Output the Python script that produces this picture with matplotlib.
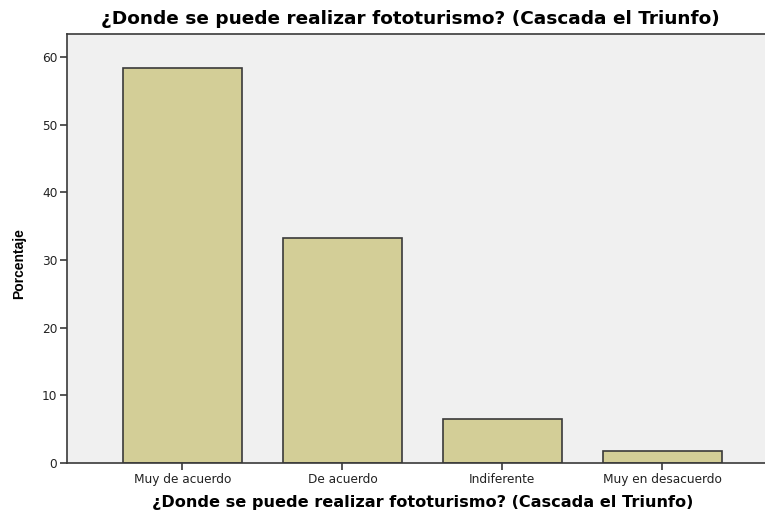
import numpy as np
import matplotlib
matplotlib.use('Agg')
import matplotlib.pyplot as plt

categorias = ['Muy de acuerdo', 'De acuerdo', 'Indiferente', 'Muy en desacuerdo']
porcentajes = [58.4, 33.3, 6.5, 1.8]
titulo = '¿Donde se puede realizar fototurismo? (Cascada el Triunfo)'

fig = plt.figure(figsize=(7.65, 5.14), dpi=100)
ax = fig.add_axes([0.0876, 0.0992, 0.929, 0.835])
ax.set_facecolor('#F0F0F0')

x = np.arange(len(categorias))
ax.bar(x, porcentajes, width=0.744, color='#D3CE97', edgecolor='#3A3A3A', linewidth=1.2, zorder=2)

ax.set_xlim(-0.722, len(categorias) - 1 + 0.722)
ax.set_ylim(0, 63.4)
ax.set_yticks([0, 10, 20, 30, 40, 50, 60])
ax.set_xticks(x)
ax.set_xticklabels(categorias)

for s in ['left', 'bottom', 'top', 'right']:
    ax.spines[s].set_color('#3A3A3A')
    ax.spines[s].set_linewidth(1.2)

ax.tick_params(axis='both', direction='out', length=5, width=1.2, color='#3A3A3A',
               labelsize=8.7, labelcolor='#222222', pad=2)

ax.set_ylabel('Porcentaje', fontsize=10, fontweight='bold',
              family=['Liberation Sans', 'DejaVu Sans'])
ax.yaxis.set_label_coords(-0.0578, 0.464)
ax.set_xlabel(titulo, fontsize=11.6, fontweight='bold', labelpad=7)
ax.set_title(titulo, fontsize=13.3, fontweight='bold', pad=7, x=(410 - 67) / (777.5 - 67))

fig.savefig('out.png', dpi=100)
